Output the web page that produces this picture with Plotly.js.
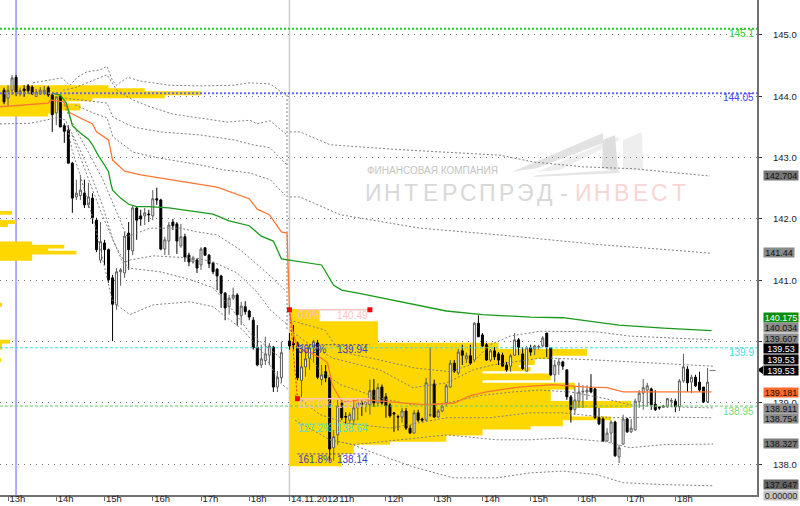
<!DOCTYPE html>
<html><head><meta charset="utf-8">
<script src="https://cdn.plot.ly/plotly-3.0.1.min.js"></script>
<style>html,body{margin:0;padding:0;background:#fff}#c{width:800px;height:506px}</style>
</head><body><div id="c"></div>
<script>
// ---------- candles (5-minute bars; bar 71 is the overnight gap) ----------
const barIndex = [];
for (let i = 1; i <= 176; i++) if (i !== 71) barIndex.push(i);
const openP = [
144.10,143.97,144.10,144.31,144.04,144.12,144.17,144.15,144.00,144.04,
144.05,144.14,144.02,143.73,144.00,143.52,143.45,142.91,142.36,142.38,
142.42,142.23,142.34,141.98,141.33,141.61,141.50,141.04,140.60,141.14,
141.12,141.77,141.48,142.18,142.05,142.05,142.08,142.05,142.33,142.31,
141.51,141.64,141.95,141.92,141.56,141.71,141.41,141.30,141.33,141.25,
141.53,141.41,141.28,141.18,141.07,140.79,140.57,140.71,140.76,140.42,
140.57,140.50,140.35,139.91,139.62,139.69,139.78,139.91,139.26,139.41,
140.01,139.97,139.98,139.37,139.59,139.73,139.90,139.98,139.38,139.51,
139.41,138.27,138.48,139.00,138.78,138.72,138.72,138.92,139.00,138.98,
138.97,139.21,139.00,139.26,139.10,138.97,138.84,138.78,138.77,138.87,
138.59,138.51,138.84,138.74,138.72,138.80,139.31,138.77,138.87,139.00,
139.26,139.65,139.49,139.85,139.72,139.77,139.70,140.30,140.11,139.95,
139.70,139.85,139.80,139.78,139.62,139.60,139.78,140.03,139.80,139.52,
139.90,139.88,139.91,139.93,140.14,139.90,139.46,139.62,139.67,139.54,
139.10,138.89,139.03,139.18,139.18,139.26,139.23,138.76,138.74,138.38,
138.51,138.69,138.12,138.33,138.74,138.53,138.56,139.02,139.16,139.21,
139.23,138.98,138.93,138.93,138.94,139.03,139.03,138.94,139.36,139.55,
139.34,139.42,139.34,139.26,139.02];
const highP = [
144.14,144.18,144.35,144.35,144.14,144.18,144.20,144.18,144.12,144.15,
144.17,144.17,144.05,144.00,144.02,143.56,143.53,142.93,142.64,142.72,
142.64,142.59,142.42,142.02,141.95,141.66,141.52,141.09,141.20,141.20,
141.79,141.95,142.21,142.21,142.15,142.18,142.15,142.47,142.51,142.33,
141.71,141.95,142.00,141.95,141.92,141.76,141.45,141.40,141.36,141.54,
141.54,141.43,141.30,141.20,141.09,140.81,140.76,140.88,140.79,140.65,
140.66,140.52,140.40,140.27,139.95,140.08,139.98,139.93,139.52,140.00,
140.14,140.27,140.00,139.91,139.87,139.95,140.03,140.03,139.62,139.62,
139.42,138.56,139.05,139.05,138.85,138.85,139.05,139.08,139.05,139.08,
139.38,139.39,139.32,139.30,139.16,139.00,138.85,138.81,138.92,138.92,
138.64,138.89,138.89,138.76,139.41,139.91,139.38,138.90,139.00,139.31,
139.70,139.70,139.88,139.95,139.82,139.95,140.32,140.43,140.14,139.98,
139.88,139.91,139.83,139.82,139.67,139.80,140.14,140.06,139.91,139.93,
139.95,139.95,139.95,140.09,140.14,139.90,139.70,139.73,139.69,139.54,
139.13,139.26,139.33,139.29,139.29,139.47,139.25,138.92,138.77,138.59,
138.72,138.71,138.32,138.81,138.76,138.74,139.07,139.21,139.39,139.33,
139.25,139.21,138.95,138.97,139.08,139.08,139.07,139.39,139.80,139.60,
139.46,139.46,139.51,139.26,139.57];
const lowP = [
143.87,143.83,144.02,144.00,144.00,143.99,144.04,144.02,143.99,144.02,
144.02,143.99,143.42,143.53,143.50,143.24,142.91,142.10,142.31,142.31,
142.18,142.18,141.92,141.46,141.28,141.25,140.96,140.01,140.52,140.91,
141.04,141.17,141.41,141.66,141.89,141.90,141.95,141.98,142.23,141.49,
141.41,141.41,141.82,141.43,141.53,141.30,141.23,141.27,141.12,141.17,
141.40,141.20,141.10,140.84,140.55,140.35,140.44,140.68,140.26,140.27,
140.44,140.35,139.87,139.60,139.57,139.62,139.62,139.18,139.18,139.33,
139.87,139.87,139.37,139.10,139.43,139.54,139.67,139.39,139.29,139.34,
138.06,138.06,138.32,138.72,138.66,138.66,138.64,138.72,138.79,138.85,
138.81,138.94,138.94,138.97,138.76,138.76,138.53,138.55,138.68,138.56,
138.50,138.50,138.69,138.69,138.71,138.77,138.76,138.76,138.85,138.94,
139.25,139.49,139.46,139.62,139.65,139.62,139.67,140.08,139.91,139.69,
139.67,139.70,139.62,139.60,139.51,139.51,139.77,139.78,139.54,139.51,
139.77,139.78,139.87,139.91,139.75,139.44,139.34,139.46,139.54,139.05,
138.68,138.81,138.92,138.92,139.05,139.16,138.74,138.64,138.37,138.37,
138.35,138.12,138.02,138.32,138.51,138.51,138.55,138.92,138.89,138.94,
138.89,138.87,138.89,138.92,138.92,138.94,138.85,138.87,139.33,139.18,
139.16,139.26,139.18,139.00,139.00];
const closeP = [
143.91,144.10,144.30,144.07,144.09,144.09,144.09,144.04,144.07,144.10,
144.10,144.02,143.70,143.99,143.50,143.43,142.91,142.34,142.42,142.47,
142.23,142.36,142.02,141.50,141.63,141.50,141.01,140.61,141.14,141.17,
141.72,141.50,142.18,141.98,142.00,142.10,142.07,142.33,142.31,141.51,
141.66,141.90,141.89,141.64,141.71,141.38,141.30,141.36,141.20,141.51,
141.41,141.27,141.14,141.07,140.79,140.55,140.71,140.76,140.44,140.58,
140.49,140.40,139.90,139.62,139.72,139.80,139.93,139.26,139.42,139.82,
139.93,139.95,139.41,139.59,139.72,139.90,140.00,139.42,139.46,139.41,
138.25,138.45,138.95,138.76,138.77,138.81,138.92,139.00,138.98,139.02,
139.20,139.00,139.25,139.00,138.95,138.79,138.82,138.77,138.87,138.59,
138.51,138.84,138.72,138.72,139.33,138.81,138.77,138.87,138.95,139.28,
139.65,139.52,139.83,139.78,139.77,139.65,140.30,140.08,139.93,139.70,
139.85,139.75,139.70,139.60,139.54,139.77,140.03,139.91,139.56,139.90,
139.83,139.93,139.92,140.06,139.91,139.46,139.62,139.67,139.60,139.10,
138.89,139.05,139.18,139.19,139.21,139.18,138.76,138.66,138.38,138.51,
138.69,138.14,138.27,138.74,138.53,138.59,139.03,139.16,139.25,139.28,
138.97,138.89,138.92,138.95,139.07,139.04,138.94,139.36,139.59,139.33,
139.42,139.28,139.21,139.02,139.34];

// ---------- time axis ----------
const tickBars = [2,14,26,38,50,62,72,84,96,108,120,132,144,156,168];
const tickLabels = ['13h','14h','15h','16h','17h','18h','14.11.2012','11h','12h','13h','14h','15h','16h','17h','18h'];

// ---------- VWAP lines ----------
const greenBars = [13,15,16.5,17.5,18,20,22,23,24.5,26,27,27.5,28,30,32,34,37,42,48,53,57,62,65,68,70,72,80,83,85,90,99,111,120,132,140,149,154,165,177];
const greenVals = [144.05,144.02,143.89,143.65,143.52,143.40,143.30,143.21,143.03,142.88,142.77,142.60,142.47,142.34,142.24,142.20,142.20,142.18,142.13,142.08,141.97,141.89,141.72,141.64,141.35,141.33,141.25,140.92,140.84,140.78,140.66,140.50,140.44,140.40,140.39,140.32,140.27,140.22,140.18];
const orangeBars = [0,12,12.5,15.8,17.4,20,23,24,27,28,30,31,35,43,54,62,64,67,70,71.4,72,73,74,80,81.5,82.6,85,91.5,96.5,106,113,117,121,129,137.5,146,151,155,164,177];
const orangeVals = [143.83,143.89,143.94,143.91,143.73,143.65,143.55,143.42,143.29,142.96,142.83,142.78,142.72,142.64,142.52,142.33,142.16,142.07,141.79,141.77,140.52,140.11,139.91,139.73,139.65,139.30,139.02,139.05,139.02,138.97,139.00,139.12,139.18,139.26,139.30,139.26,139.25,139.18,139.18,139.18];

// ---------- deviation bands ----------
const bandA1x=[8.2,12.4,15.4,17.4,19.2,21.6,24.9,26.6,27.9,28.9,31.8,34.8,42.3,49.8,58,62.2,67.2,71.1];
const bandA1y=[144.22,144.27,144.30,144.18,144.31,144.40,144.43,144.49,144.27,144.18,144.31,144.25,144.18,144.17,144.18,144.22,144.20,144.02];
const bandA2x=[15.7,18.7,23.6,26.6,27.9,29.1,33.1,37.3,43,49.8,56.5,62.2,63.9,67.2,71.4];
const bandA2y=[144.10,144.14,144.27,144.35,144.22,144.10,143.94,143.83,143.71,143.65,143.58,143.61,143.55,143.60,143.37];
const bandA3x=[16.2,23.1,26.6,28.1,33.1,39.8,49.8,58,62.9,67.2,71.4];
const bandA3y=[143.97,143.91,143.89,143.66,143.50,143.42,143.37,143.29,143.21,143.16,142.88];
const bandA4x=[18.7,23.1,26.6,28.1,33.1,39.1,49.8,55.7,62.2,67.2,70.9];
const bandA4y=[143.86,143.73,143.65,143.34,143.09,143.00,142.88,142.80,142.75,142.64,142.39];
const bandA5x=[15.9,18.9,22.4,25.6,29.1,31.6,37.3,44.8,49,54,59.7,66.4,70.9];
const bandA5y=[143.86,143.45,143.04,142.64,142.10,141.71,141.85,141.85,141.79,141.74,141.50,141.12,140.84];
const bandA6x=[16.9,19.9,23.1,25.6,28.1,30.6,32.3,38.1,43,49,53,59,63.9,67.2,71.6];
const bandA6y=[143.53,143.13,142.64,142.20,141.66,141.28,141.33,141.40,141.38,141.36,141.30,141.12,140.81,140.52,140.27];
const bandA7x=[17.9,21.1,24.9,28.6,31.8,39.8,47.3,53,57.2,62.2,66.4,70.4];
const bandA7y=[143.37,142.80,142.15,141.58,141.20,141.14,141.01,140.88,140.57,140.14,139.91,139.70];
const bandA8x=[0,7.5,14.2,16.4,17.9,19.9,23.6,26.1,27.9,29.1,32.3,38.1,47.3,53,56.5,60.4,65.4,69.7,71.9];
const bandA8y=[143.55,143.56,143.65,143.61,143.13,142.72,141.90,141.17,140.68,140.60,140.44,140.60,140.65,140.57,140.39,140.19,139.82,139.33,139.21];
const bandDropX=[71.4,71.4];
const bandDropY=[144.02,140.20];
const bandB1x=[72.1,74.6,82.1,99.5,124.4,132.6,145,157.5,176.6];
const bandB1y=[143.42,143.42,143.21,143.13,143.04,142.93,142.85,142.82,142.70];
const bandB2x=[72.1,74.6,84.6,104.5,124.4,136.8,149.3,165.9,177.1];
const bandB2y=[142.36,142.36,142.07,141.85,141.74,141.66,141.58,141.50,141.44];
const bandB3x=[72.1,80.8,83.3,85.8,94.5,103.2,111.9,116.9,121.9,126.9,134.3,140,148.5,156.7,169.2,177.4];
const bandB3y=[140.35,140.19,139.95,139.82,139.70,139.57,139.51,139.62,139.95,140.09,140.17,140.17,140.16,140.09,140.06,140.03];
const bandB4x=[72.1,77.1,82.8,94.5,102.7,111.2,117.7,122.6,134.3,137.6,148.5,164.9,177.4];
const bandB4y=[140.19,139.95,139.73,139.54,139.25,139.33,139.54,139.62,139.73,139.73,139.70,139.65,139.60];
const bandB5x=[73.4,79.6,84.6,94.5,102.7,111.2,119.4,127.6,134.3,141.8,150,156.7,164.9,177.4];
const bandB5y=[140.03,139.54,139.30,139.08,138.97,139.00,139.12,139.18,139.21,139.18,139.08,138.97,138.94,138.92];
const bandB6x=[73.4,79.6,86.3,97,111.2,121.9,131.8,140,151.7,164.9,177.4];
const bandB6y=[139.13,138.81,138.67,138.59,138.76,138.76,138.84,138.84,138.76,138.77,138.76];
const bandB7x=[73.4,82.1,87.8,98.8,111.2,123.6,131.8,140,150.5,156.7,164.9,177.4];
const bandB7y=[138.72,138.40,138.32,138.40,138.48,138.40,138.40,138.43,138.37,138.27,138.32,138.33];
const bandB8x=[82.1,87.8,92.8,102.7,112.7,123.6,131.8,140,148.5,155,164.9,177.4];
const bandB8y=[138.40,138.32,138.19,137.96,137.78,137.78,137.86,137.89,137.83,137.70,137.67,137.65];

// ---------- volume profiles (price bin -> length in bars) ----------
const profileLeftP = [144.15,144.10,144.05,144.00,143.95,143.90,143.85,143.80,143.75,143.70,142.10,141.95,141.90,141.60,141.55,141.50,141.45,141.40,141.35,140.60,140.00,139.95,139.90,139.70];
const profileLeftL = [27,36,50,41,23,15,20,20,14,12,3,4,2,8,16,12,19,8,8,0.5,2.5,0.5,0.5,0.3];
const profileRightP = [140.50,140.45,140.40,140.35,140.30,140.25,140.20,140.15,140.10,140.05,140.00,139.95,139.90,139.85,139.80,139.75,139.70,139.65,139.60,139.55,139.50,139.45,139.40,139.35,139.30,139.25,139.20,139.15,139.10,139.05,139.00,138.95,138.90,138.85,138.80,138.75,138.70,138.65,138.60,138.55,138.50,138.45,138.40,138.35,138.30,138.25,138.20,138.15,138.10,138.05,138.00];
const profileRightL = [7.5,7.5,7.5,7.5,22,22,22,22,22,22,22,52,52,74,74,65,61,61,57,60,48,65,65,48,71,71,65,65,65,65,85,85,70,70,70,80,68,68,60,48,48,39,39,25,16,16,16,13,13,13,13];

// ---------- levels and Fibonacci ----------
const levelVals = [145.1,144.05,139.9,138.95];
const levelNames = ['145.1','144.05','139.9','138.95'];
const fibBars = [72,74];
const fibPrices = [140.52,139.07];
const fibEndBar = 92;
const fibNames = ['0.0%','38.2%','100.0%','127.2%','161.8%'];
const fibNameVals = ['140.49','139.94','139.07','138.64','138.14'];
const fibLevelVals = [140.52,139.95,139.07,138.66,138.17];

// ---------- right-hand value boxes ----------
const boxTexts = ['142.704','141.44','140.175','140.034','139.607','139.53','139.53','139.53','139.181','138.911','138.754','138.327','137.647','0.00000'];

// ---------- rendering ----------
const PW=757, PH=495;
const px = x=>x/PW, py = y=>1-y/PH;
const maxBar = 188.3;
const bandStyle = {color:'#808080',width:1,dash:'2px,2px'};
const traces = [];
traces.push({type:'bar',orientation:'h',y:profileLeftP,x:profileLeftL,base:0,width:0.062,marker:{color:'#ffd700',line:{width:0}},hoverinfo:'skip'});
traces.push({type:'bar',orientation:'h',y:profileRightP,x:profileRightL,base:72,width:0.062,marker:{color:'#ffd700',line:{width:0}},hoverinfo:'skip'});
traces.push({type:'candlestick',x:barIndex,open:openP,high:highP,low:lowP,close:closeP,whiskerwidth:0,
  increasing:{line:{color:'#5a5a5a',width:1},fillcolor:'#ffffff'},
  decreasing:{line:{color:'#000000',width:1},fillcolor:'#000000'},hoverinfo:'skip'});
[[bandA1x,bandA1y],[bandA2x,bandA2y],[bandA3x,bandA3y],[bandA4x,bandA4y],[bandA5x,bandA5y],[bandA6x,bandA6y],[bandA7x,bandA7y],[bandA8x,bandA8y],[bandDropX,bandDropY],
 [bandB1x,bandB1y],[bandB2x,bandB2y],[bandB3x,bandB3y],[bandB4x,bandB4y],[bandB5x,bandB5y],[bandB6x,bandB6y],[bandB7x,bandB7y],[bandB8x,bandB8y]]
 .forEach(b=>traces.push({type:'scatter',mode:'lines',x:b[0],y:b[1],line:bandStyle,hoverinfo:'skip'}));
traces.push({type:'scatter',mode:'lines',x:orangeBars,y:orangeVals,line:{color:'#ff7733',width:1.3},hoverinfo:'skip'});
traces.push({type:'scatter',mode:'lines',x:greenBars,y:greenVals,line:{color:'#1a9a1a',width:1.3},hoverinfo:'skip'});
const levelStyles = [
 {color:'#22cc22',width:2,dash:'2px,2px'},{color:'#6666ff',width:2,dash:'2px,2px'},
 {color:'#44dddd',width:1,dash:'3px,2px'},{color:'#66cc66',width:1,dash:'3px,2px'}];
levelVals.forEach((v,i)=>traces.push({type:'scatter',mode:'lines',x:[0,maxBar],y:[v,v],line:levelStyles[i],hoverinfo:'skip'}));
// Fibonacci drawing
traces.push({type:'scatter',mode:'lines',x:fibBars,y:fibPrices,line:{color:'#ff2222',width:1,dash:'2px,2px'},hoverinfo:'skip'});
const fibColors=['#ffc4c4','#3a3ac0','#ffc4c4','#55ddcc','#3a3ac0'];
fibLevelVals.forEach((v,i)=>{
  const solid=(i===0||i===2);
  traces.push({type:'scatter',mode:'lines',x:[fibBars[1],fibEndBar],y:[v,v],
   line:{color:fibColors[i],width:solid?1.5:1,dash:solid?'solid':'2px,2px'},hoverinfo:'skip'});
});
traces.push({type:'scatter',mode:'markers',x:[fibBars[0],fibBars[1],fibEndBar],y:[fibPrices[0],fibPrices[1],fibPrices[0]],
  marker:{symbol:'square',size:5,color:'#ff0000'},hoverinfo:'skip'});
traces.push({type:'scatter',mode:'lines',x:[176.5,178],y:[139.53,139.53],line:{color:'#777',width:1},hoverinfo:'skip'});

const ann = [];
const font = 'Liberation Sans, Arial, sans-serif';
// level labels
const levelColors=['#33cc33','#4444ff','#44e0e0','#77dd77'], levelShift=[-5,-4,-5,-5];
levelNames.forEach((t,i)=>ann.push({xref:'paper',yref:'y',x:px(756),y:levelVals[i],text:t,showarrow:false,xanchor:'right',yanchor:'middle',yshift:levelShift[i],font:{family:font,size:10,color:levelColors[i]}}));
// fib labels
fibNames.forEach((t,i)=>{
  const yoff=[-6,-5,-6,-5,-6][i];
  ann.push({xref:'x',yref:'y',x:74,y:fibLevelVals[i],text:t,showarrow:false,xanchor:'left',yanchor:'middle',yshift:yoff,xshift:-1,font:{family:font,size:10,color:fibColors[i]}});
  ann.push({xref:'x',yref:'y',x:92,y:fibLevelVals[i],text:fibNameVals[i],showarrow:false,xanchor:'right',yanchor:'middle',yshift:yoff,font:{family:font,size:10,color:fibColors[i]}});
});
// value boxes, stacked in the price column
const boxY=[175,253,317,327,338,348,359,370,392,408,418,443,484,495];
const boxW=[34,30,34,34,34,34,34,34,34,34,34,34,34,34];
const boxBg=['#777777','#8a8a8a','#0b8f0b','#8c8c8c','#8c8c8c','#000000','#000000','#000000','#ff6a2a','#8c8c8c','#8c8c8c','#7c7c7c','#666666','#c4c4c4'];
const boxFg=['#111','#111','#fff','#111','#111','#fff','#fff','#fff','#111','#111','#111','#111','#111','#222'];
boxTexts.forEach((t,i)=>ann.push({xref:'paper',yref:'paper',x:px(763),y:py(boxY[i]),text:t,showarrow:false,xanchor:'left',yanchor:'middle',align:'center',
  width:boxW[i],height:9,borderpad:0,bgcolor:boxBg[i],font:{family:font,size:9,color:boxFg[i]}}));
// watermark
ann.push({xref:'paper',yref:'paper',x:px(365),y:py(170),text:'ФИНАНСОВАЯ КОМПАНИЯ',showarrow:false,xanchor:'left',yanchor:'middle',font:{family:font,size:10,color:'#c4c4c4'}});
const wm='ИНТЕРСПРЭД-ИНВЕСТ';
[...wm].forEach((ch,k)=>ann.push({xref:'paper',yref:'paper',x:px(373+k*19.1),y:py(193),text:ch,showarrow:false,xanchor:'center',yanchor:'middle',
  font:{family:'Liberation Sans Narrow, Liberation Sans, sans-serif',size:23,color:k<11?'#d8d8d8':'#f9d6d6'}}));

const poly = (pts,fill)=>({type:'path',xref:'paper',yref:'paper',layer:'below',fillcolor:fill,line:{width:0},
  path:'M'+pts.map(p=>px(p[0]).toFixed(5)+','+py(p[1]).toFixed(5)).join(' L')+' Z'});
const shapes=[
 poly([[512,172],[603,133],[603,143],[537,168]],'#e2e2e2'),
 poly([[537,172],[618,137],[620,140],[560,170]],'#eeeeee'),
 poly([[603,140],[615,135],[618,172],[602,168]],'#dedede'),
 poly([[623,140],[642,132],[643,170],[623,170]],'#eeeeee'),
 poly([[537,175],[618,170],[620,173],[533,177]],'#e6e6e6'),
 {type:'line',xref:'x',yref:'paper',x0:4,x1:4,y0:0,y1:1,layer:'below',line:{color:'#aaaaff',width:2}},
 {type:'line',xref:'x',yref:'paper',x0:72,x1:72,y0:0,y1:1,layer:'below',line:{color:'#cccccc',width:1.5}},
 poly([[757,370],[763,366],[763,374]],'#000000')
];

const layout = {
 width:800,height:506,margin:{l:0,r:43,t:0,b:11,pad:0},paper_bgcolor:'#fff',plot_bgcolor:'#fff',
 showlegend:false,barmode:'overlay',dragmode:false,shapes:shapes,annotations:ann,
 xaxis:{range:[0,maxBar],tickmode:'array',tickvals:tickBars,ticktext:tickLabels,showgrid:false,zeroline:false,tickangle:0,
   showline:true,linecolor:'#707070',linewidth:2,ticks:'outside',ticklen:4,tickcolor:'#707070',ticklabelposition:'outside right',ticklabelstandoff:-6,
   tickfont:{family:font,size:9.5,color:'#222'},rangeslider:{visible:false},automargin:false},
 yaxis:{range:[137.50,145.57],side:'right',tickmode:'linear',tick0:138,dtick:1,tickformat:'.1f',
   showgrid:true,gridcolor:'#777',gridwidth:1,griddash:'1px,5px',zeroline:false,
   showline:true,linecolor:'#707070',linewidth:2,ticks:'outside',ticklen:3,tickcolor:'#333',ticklabelstandoff:9,
   tickfont:{family:font,size:9.5,color:'#222'},automargin:false}
};
Plotly.newPlot('c',traces,layout,{displayModeBar:false,staticPlot:true});
</script></body></html>
